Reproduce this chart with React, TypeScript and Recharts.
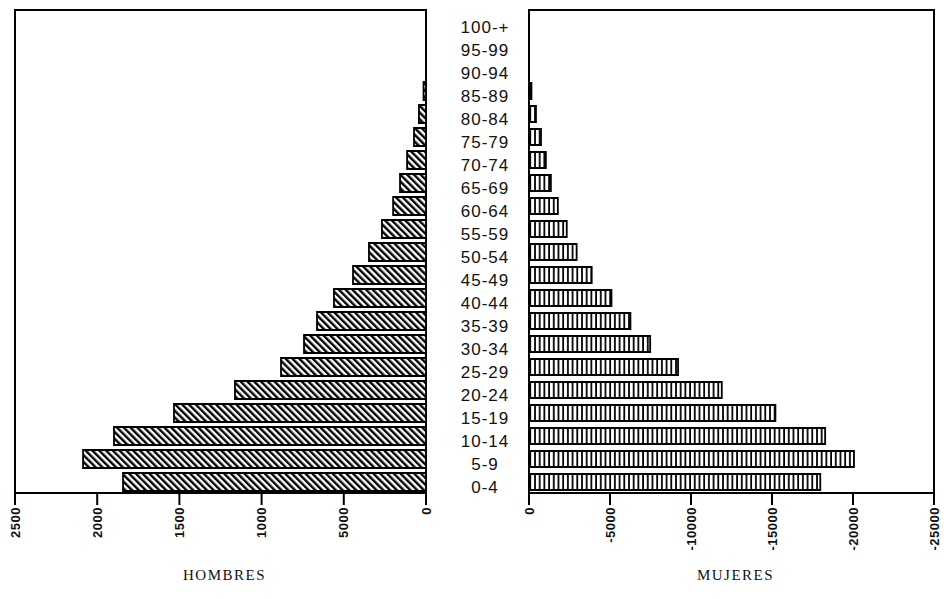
import React from 'react';
import { BarChart, Bar, XAxis, YAxis, ReferenceArea } from 'recharts';

const ages = ['0-4','5-9','10-14','15-19','20-24','25-29','30-34','35-39','40-44','45-49','50-54','55-59','60-64','65-69','70-74','75-79','80-84','85-89','90-94','95-99','100-+'];
const hombres = [18430, 20860, 18980, 15330, 11620, 8820, 7420, 6630, 5600, 4440, 3470, 2680, 2000, 1580, 1150, 730, 430, 150, 0, 0, 0];
const mujeres = [17980, 20060, 18280, 15210, 11900, 9200, 7480, 6260, 5090, 3870, 2940, 2330, 1780, 1350, 1040, 740, 430, 150, 0, 0, 0];
const tickValues = [0, 5000, 10000, 15000, 20000, 25000];
const leftTickLabels = ['0', '5000', '1000', '1500', '2000', '2500'];
const rightTickLabels = ['0', '-5000', '-10000', '-15000', '-20000', '-25000'];

const data = ages.map((a, i) => ({ age: a, h: hombres[i], m: mujeres[i] }));

const makeRotTick = (labels: string[]) => (props: any) => {
  const { x, y, payload } = props;
  const idx = tickValues.indexOf(payload.value);
  return (
    <text
      x={x}
      y={y}
      transform={`rotate(-90 ${x} ${y})`}
      textAnchor="end"
      dy="0.36em"
      fontFamily="Liberation Sans, Arial, sans-serif"
      fontWeight="bold"
      fontSize={13}
      letterSpacing={0.5}
      fill="#111"
    >
      {labels[idx] ?? ''}
    </text>
  );
};

const AgeTick = (props: any) => {
  const { x, y, payload } = props;
  return (
    <text
      x={x - 44}
      y={y + 11.5}
      textAnchor="middle"
      fontFamily="Liberation Sans, Arial, sans-serif"
      fontSize={17}
      letterSpacing={1}
      fill="#111"
    >
      {payload.value}
    </text>
  );
};

const makeTitle = (title: string) => (props: any) => {
  const { viewBox } = props;
  return (
    <text
      x={viewBox.x + viewBox.width / 2 + 4}
      y={viewBox.y + 87}
      textAnchor="middle"
      fontFamily="Liberation Serif, Times New Roman, serif"
      fontSize={15}
      letterSpacing={1.5}
      fill="#111"
    >
      {title}
    </text>
  );
};

const lineStyle = { stroke: '#000', strokeWidth: 2 };

export default function App() {
  return (
    <div style={{ position: 'absolute', left: 0, top: 0, width: 944, height: 599, background: '#fff' }}>
      <svg width={0} height={0} style={{ position: 'absolute' }}>
        <defs>
          <pattern id="hatchL" patternUnits="userSpaceOnUse" width="4.8" height="4.8" patternTransform="rotate(-45)">
            <rect width="4.8" height="4.8" fill="#fff" />
            <line x1="1.2" y1="0" x2="1.2" y2="4.8" stroke="#000" strokeWidth="2.4" />
          </pattern>
          <pattern id="hatchR" patternUnits="userSpaceOnUse" width="4.7" height="10">
            <rect width="4.7" height="10" fill="#fff" />
            <line x1="1" y1="0" x2="1" y2="10" stroke="#000" strokeWidth="1.8" />
          </pattern>
        </defs>
      </svg>
      <div style={{ position: 'absolute', left: 0, top: 0 }}>
        <BarChart
          width={440}
          height={599}
          data={data}
          layout="vertical"
          margin={{ top: 10, right: 14, bottom: 0, left: 15 }}
          barCategoryGap={0}
        >
          <XAxis
            type="number"
            dataKey="h"
            domain={[0, 25000]}
            ticks={tickValues}
            reversed
            height={106}
            axisLine={lineStyle}
            tickLine={lineStyle}
            tickSize={12}
            tickMargin={2}
            tick={makeRotTick(leftTickLabels)}
            interval={0}
            label={{ content: makeTitle('HOMBRES') } as any}
          />
          <YAxis type="category" dataKey="age" reversed hide orientation="right" />
          <ReferenceArea x1={0} x2={25000} fill="none" fillOpacity={0} stroke="#000" strokeWidth={2} ifOverflow="visible" />
          <Bar dataKey="h" fill="url(#hatchL)" stroke="#000" strokeWidth={1.8} barSize={18} isAnimationActive={false} />
        </BarChart>
      </div>
      <div style={{ position: 'absolute', left: 440, top: 0 }}>
        <BarChart
          width={504}
          height={599}
          data={data}
          layout="vertical"
          margin={{ top: 10, right: 10, bottom: 0, left: 0 }}
          barCategoryGap={0}
        >
          <XAxis
            type="number"
            dataKey="m"
            domain={[0, 25000]}
            ticks={tickValues}
            height={106}
            axisLine={lineStyle}
            tickLine={lineStyle}
            tickSize={12}
            tickMargin={2}
            tick={makeRotTick(rightTickLabels)}
            interval={0}
            label={{ content: makeTitle('MUJERES') } as any}
          />
          <YAxis
            type="category"
            dataKey="age"
            reversed
            width={89}
            axisLine={lineStyle}
            tickLine={false}
            tickSize={0}
            tickMargin={0}
            tick={AgeTick}
            interval={0}
          />
          <ReferenceArea x1={0} x2={25000} fill="none" fillOpacity={0} stroke="#000" strokeWidth={2} ifOverflow="visible" />
          <Bar dataKey="m" fill="url(#hatchR)" stroke="#000" strokeWidth={1.8} barSize={16} isAnimationActive={false} />
        </BarChart>
      </div>
    </div>
  );
}
